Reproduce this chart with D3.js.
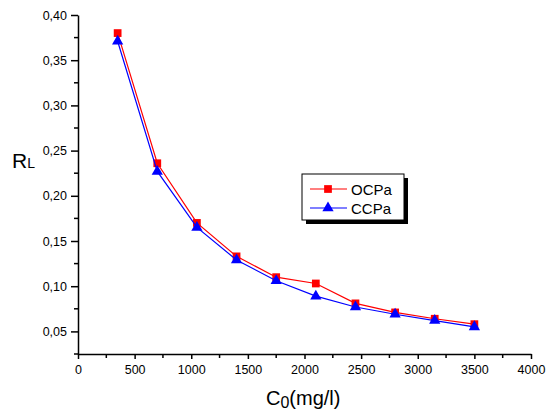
<!DOCTYPE html>
<html>
<head>
<meta charset="utf-8">
<script src="https://cdn.jsdelivr.net/npm/d3@7"></script>
<style>
  body { margin: 0; background: #fff; }
  svg { display: block; font-family: "Liberation Sans", Arial, sans-serif; }
</style>
</head>
<body>
<svg></svg>
<script>
// Data
const concentrations = [350, 700, 1050, 1400, 1750, 2100, 2450, 2800, 3150, 3500];
const ocpa = [0.380, 0.236, 0.170, 0.133, 0.110, 0.103, 0.081, 0.071, 0.064, 0.058];
const ccpa = [0.371, 0.227, 0.165, 0.129, 0.106, 0.089, 0.077, 0.069, 0.062, 0.055];
const xTicks = [0, 500, 1000, 1500, 2000, 2500, 3000, 3500, 4000];
const yTicks = [0.05, 0.10, 0.15, 0.20, 0.25, 0.30, 0.35, 0.40];

const width = 546, height = 410;
const svg = d3.select("svg").attr("width", width).attr("height", height);

// Scales
const x = d3.scaleLinear().domain([0, 4000]).range([78, 531]);
const y = d3.scaleLinear().domain([0.025, 0.40]).range([354, 15]);

const fmt = d => d3.format(".2f")(d).replace(".", ",");

// Y axis
const yAxis = svg.append("g")
    .attr("transform", "translate(78,0)")
    .call(d3.axisLeft(y).tickValues(yTicks).tickFormat(fmt).tickSize(7).tickSizeOuter(0).tickPadding(4));
yAxis.select(".domain").attr("stroke", "#000").attr("stroke-width", 1.5);
yAxis.selectAll(".tick line").attr("stroke-width", 1.5);
yAxis.selectAll("text").attr("font-size", 12.5).attr("fill", "#000");

const yMinor = d3.range(0.025, 0.40, 0.05);
svg.append("g").selectAll("line").data(yMinor).join("line")
    .attr("x1", 74).attr("x2", 78)
    .attr("y1", d => y(d)).attr("y2", d => y(d))
    .attr("stroke", "#000").attr("stroke-width", 1.5);

// X axis
const xAxis = svg.append("g")
    .attr("transform", "translate(0,354)")
    .call(d3.axisBottom(x).tickValues(xTicks).tickFormat(d3.format("d")).tickSize(5).tickSizeOuter(0).tickPadding(6));
xAxis.select(".domain").attr("stroke", "#000").attr("stroke-width", 1.5);
xAxis.selectAll(".tick line").attr("stroke-width", 1.5);
xAxis.selectAll("text").attr("font-size", 12.5).attr("fill", "#000");

const xMinor = d3.range(250, 4000, 500);
svg.append("g").selectAll("line").data(xMinor).join("line")
    .attr("x1", d => x(d)).attr("x2", d => x(d))
    .attr("y1", 354).attr("y2", 358)
    .attr("stroke", "#000").attr("stroke-width", 1.5);

// Series
const series = [
  { name: "OCPa", values: ocpa, color: "#ff0000", symbol: d3.symbolSquare, size: 60 },
  { name: "CCPa", values: ccpa, color: "#0000ff", symbol: d3.symbolTriangle, size: 55 }
];

const line = d3.line().x((d, i) => x(concentrations[i])).y(d => y(d));

series.forEach(s => {
  svg.append("path")
      .attr("d", line(s.values))
      .attr("fill", "none")
      .attr("stroke", s.color)
      .attr("stroke-width", 1.2);
  svg.append("g").selectAll("path").data(s.values).join("path")
      .attr("transform", (d, i) => `translate(${x(concentrations[i])},${y(d)})`)
      .attr("d", d3.symbol().type(s.symbol).size(s.size))
      .attr("fill", s.color);
});

// Legend
const legend = svg.append("g");
legend.append("rect").attr("x", 306).attr("y", 178).attr("width", 102).attr("height", 46).attr("fill", "#000");
legend.append("rect").attr("x", 302).attr("y", 174).attr("width", 102).attr("height", 46)
    .attr("fill", "#fff").attr("stroke", "#000").attr("stroke-width", 1);
series.forEach((s, i) => {
  const ly = 189 + i * 19;
  legend.append("line").attr("x1", 310).attr("x2", 347).attr("y1", ly).attr("y2", ly)
      .attr("stroke", s.color).attr("stroke-width", 1.2);
  legend.append("path")
      .attr("transform", `translate(328,${ly})`)
      .attr("d", d3.symbol().type(s.symbol).size(s.size))
      .attr("fill", s.color);
  legend.append("text").attr("x", 351).attr("y", ly + 5.5)
      .attr("font-size", 15).attr("fill", "#000").text(s.name);
});

// Axis titles
const yTitle = svg.append("text").attr("x", 12).attr("y", 168).attr("font-size", 21).attr("fill", "#000");
yTitle.append("tspan").text("R");
yTitle.append("tspan").attr("font-size", 14).text("L");

const xTitle = svg.append("text").attr("x", 266).attr("y", 405).attr("font-size", 20).attr("fill", "#000");
xTitle.append("tspan").text("C");
xTitle.append("tspan").attr("font-size", 16).attr("dy", 3).text("0");
xTitle.append("tspan").attr("dy", -3).text("(mg/l)");
</script>
</body>
</html>
